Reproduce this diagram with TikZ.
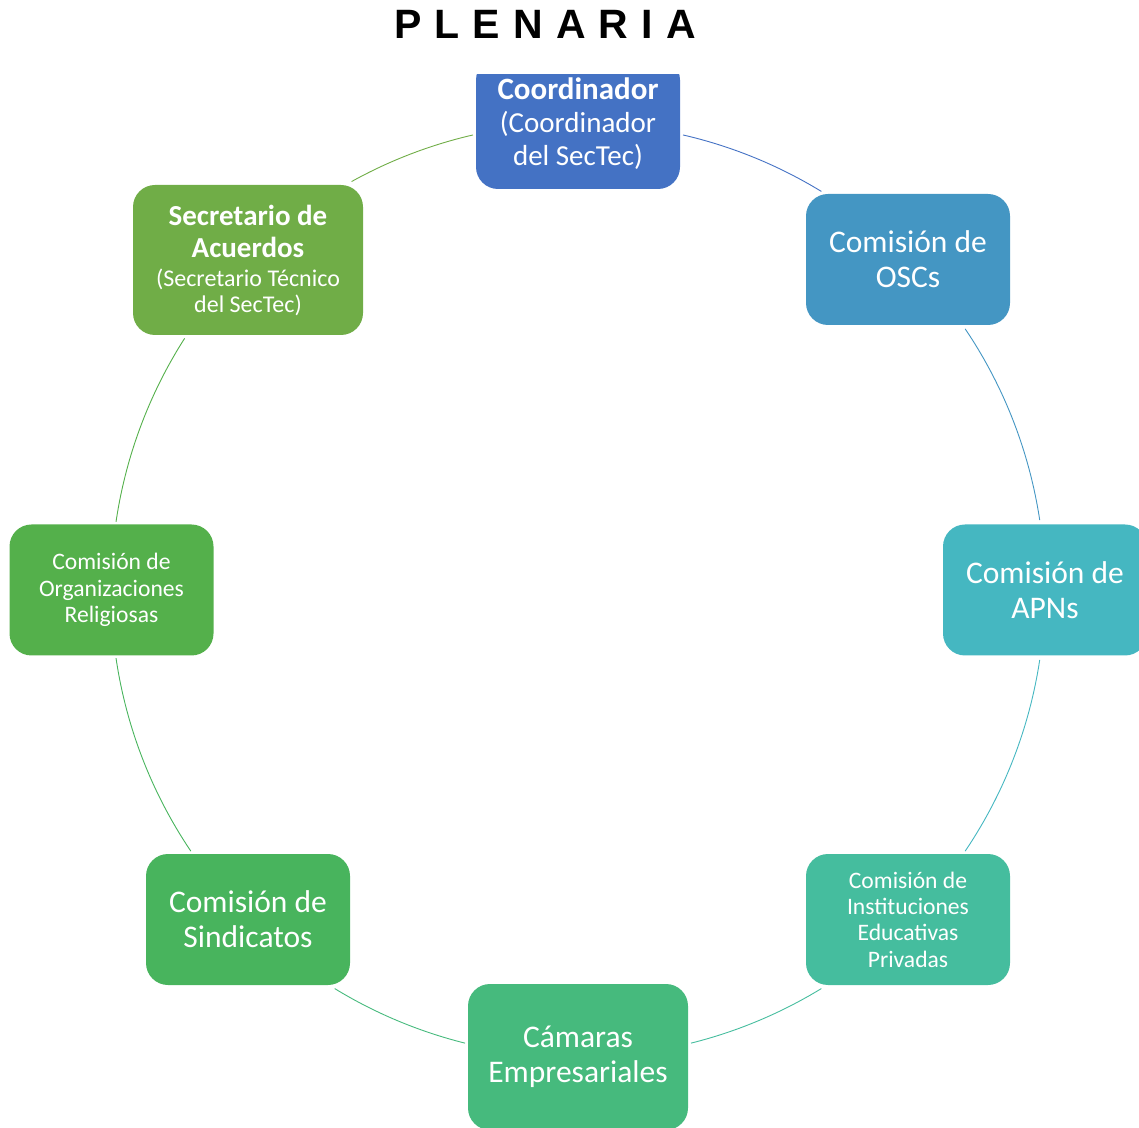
\documentclass[tikz,border=0pt]{standalone}
\usepackage{fontspec}
\setmainfont{Carlito}
\newfontfamily\titlefont[WordSpace=1.15]{Liberation Sans}

\definecolor{coordblue}{HTML}{4472C4}
\definecolor{oscblue}{HTML}{4496C3}
\definecolor{apnteal}{HTML}{45B7C1}
\definecolor{educteal}{HTML}{45BD9E}
\definecolor{camgreen}{HTML}{46BA7D}
\definecolor{sindgreen}{HTML}{48B45D}
\definecolor{religreen}{HTML}{54B04B}
\definecolor{secrgreen}{HTML}{70AD47}

\tikzset{
  caja/.style={rounded corners=22pt, text=white, align=center, inner sep=0pt,
    minimum width=204pt, minimum height=131pt, font=\fontsize{31.5}{35}\selectfont},
  cajachica/.style={caja, font=\fontsize{23.6}{26.3}\selectfont},
  arco/.style={line width=0.9pt}
}

\begin{document}
\begin{tikzpicture}[x=1pt,y=1pt]
  \useasboundingbox (0,0) rectangle (1139,1127);
  \clip (0,0) rectangle (1139,1127);
  \coordinate (ctr) at (578,537);
  \def\radio{467pt}

  % arcos del circulo, cada uno con el color de su caja de salida
  \foreach \ini/\fin/\col in {77/58.6/coordblue, 34/8.6/oscblue, -8.6/-34/apnteal,
      -58.6/-76/educteal, -104/-121.4/camgreen, -146/-171.6/sindgreen,
      171.6/147.4/religreen, 119/103/secrgreen}
    \draw[arco, \col] (ctr) ++(\ini:\radio) arc[start angle=\ini, end angle=\fin, radius=\radio];

  \node[font=\titlefont\bfseries\fontsize{41}{41}\selectfont, anchor=base] (titulo) at (545,1088) {P L E N A R I A};

  % cajas
  \begin{scope}
    \clip (0,0) rectangle (1139,1052);
    \node[caja, fill=coordblue, font=\fontsize{29}{33}\selectfont] (coord) at (578,1003.5)
      {{\bfseries\fontsize{31}{33}\selectfont Coordinador}\\(Coordinador\\del SecTec)};
  \end{scope}
  \node[caja, fill=oscblue] (oscs) at (908,867.5) {Comisión de\\OSCs};
  \node[caja, fill=apnteal] (apns) at (1045,537) {Comisión de\\APNs};
  \node[cajachica, fill=educteal] (educ) at (908,207.5)
    {Comisión de\\Instituciones\\Educativas\\Privadas};
  \node[caja, fill=camgreen, minimum width=220pt, minimum height=146pt] (camaras) at (578,70)
    {Cámaras\\Empresariales};
  \node[caja, fill=sindgreen] (sind) at (248,207.5) {Comisión de\\Sindicatos};
  \node[cajachica, fill=religreen] (relig) at (111.5,537)
    {Comisión de\\Organizaciones\\Religiosas};
  \node[caja, fill=secrgreen, minimum width=230pt, minimum height=150pt,
      font=\fontsize{24}{32}\selectfont] (secr) at (248,867)
    {{\bfseries\fontsize{29}{32}\selectfont Secretario de}\\
     {\bfseries\fontsize{29}{32}\selectfont Acuerdos}\\[-3pt]
     (Secretario Técnico\\[-6pt]del SecTec)};
\end{tikzpicture}
\end{document}
